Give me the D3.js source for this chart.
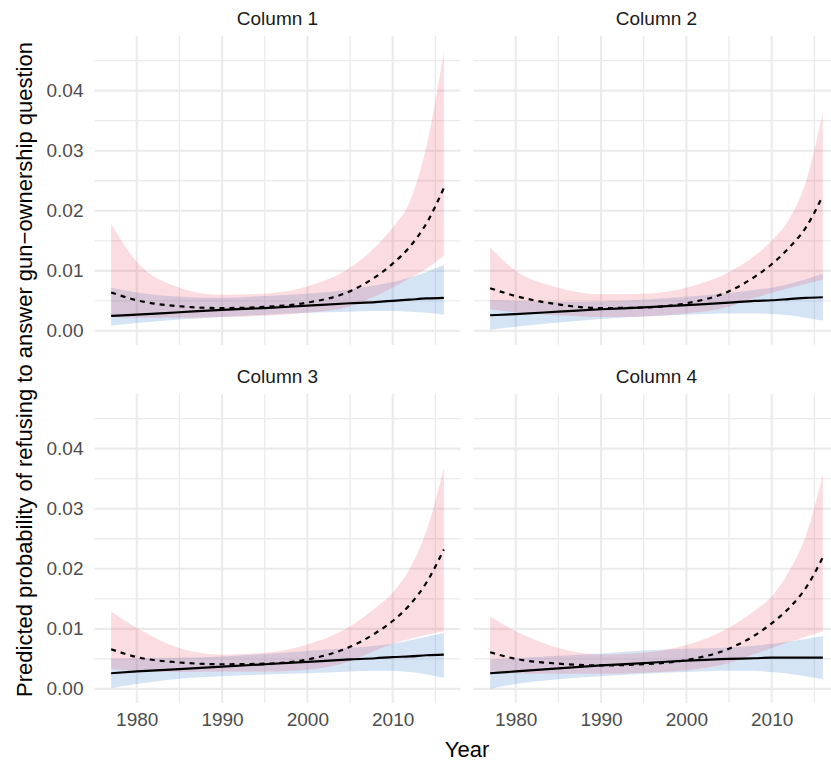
<!DOCTYPE html>
<html>
<head>
<meta charset="utf-8">
<script src="https://cdn.jsdelivr.net/npm/d3@7"></script>
<style>
  html, body { margin: 0; padding: 0; background: #fff; }
  svg { display: block; font-family: "Liberation Sans", Arial, Helvetica, sans-serif; }
</style>
</head>
<body>
<svg id="chart" width="831" height="761"></svg>
<script>
// ---------------- data ----------------
const years = [1977, 1980, 1985, 1990, 1995, 2000, 2005, 2008, 2010, 2012, 2014, 2016];
const panelTitles = ["Column 1", "Column 2", "Column 3", "Column 4"];
const xTicks = [1980, 1990, 2000, 2010];
const xMinorTicks = [1985, 1995, 2005, 2015];
const yTicks = [0.00, 0.01, 0.02, 0.03, 0.04];
const yMinorTicks = [0.005, 0.015, 0.025, 0.035, 0.045];

// dashed line (with pink band)
const dashedMean = [
  [0.0064, 0.0051, 0.0041, 0.0038, 0.0040, 0.0047, 0.0066, 0.0090, 0.0112, 0.0140, 0.0180, 0.0238],
  [0.0071, 0.0058, 0.0044, 0.0038, 0.0039, 0.0046, 0.0066, 0.0090, 0.0111, 0.0138, 0.0172, 0.0225],
  [0.0066, 0.0053, 0.0044, 0.0041, 0.0042, 0.0049, 0.0070, 0.0093, 0.0113, 0.0140, 0.0178, 0.0232],
  [0.0061, 0.0050, 0.0042, 0.0039, 0.0041, 0.0048, 0.0067, 0.0089, 0.0109, 0.0134, 0.0168, 0.0219]
];
const dashedUpper = [
  [0.0178, 0.0115, 0.0072, 0.0060, 0.0062, 0.0074, 0.0105, 0.0140, 0.0172, 0.0215, 0.0310, 0.0465],
  [0.0139, 0.0100, 0.0072, 0.0061, 0.0062, 0.0072, 0.0098, 0.0125, 0.0150, 0.0185, 0.0248, 0.0365],
  [0.0129, 0.0102, 0.0068, 0.0057, 0.0060, 0.0074, 0.0104, 0.0135, 0.0160, 0.0200, 0.0265, 0.0368],
  [0.0120, 0.0096, 0.0068, 0.0057, 0.0060, 0.0073, 0.0102, 0.0130, 0.0154, 0.0195, 0.0255, 0.0357]
];
const dashedLower = [
  [0.0023, 0.0022, 0.0022, 0.0023, 0.0025, 0.0030, 0.0041, 0.0058, 0.0072, 0.0088, 0.0104, 0.0125],
  [0.0036, 0.0031, 0.0026, 0.0023, 0.0024, 0.0029, 0.0040, 0.0055, 0.0063, 0.0071, 0.0078, 0.0085],
  [0.0033, 0.0030, 0.0028, 0.0029, 0.0029, 0.0032, 0.0046, 0.0064, 0.0075, 0.0083, 0.0090, 0.0096],
  [0.0028, 0.0026, 0.0025, 0.0025, 0.0027, 0.0031, 0.0043, 0.0058, 0.0068, 0.0078, 0.0087, 0.0096]
];
// solid line (with blue band)
const solidMean = [
  [0.0025, 0.0027, 0.0031, 0.0035, 0.0038, 0.0042, 0.0046, 0.0048, 0.0050, 0.0052, 0.0054, 0.0055],
  [0.0026, 0.0028, 0.0032, 0.0036, 0.0039, 0.0043, 0.0047, 0.0050, 0.0051, 0.0053, 0.0055, 0.0056],
  [0.0026, 0.0029, 0.0033, 0.0037, 0.0041, 0.0045, 0.0049, 0.0051, 0.0053, 0.0054, 0.0056, 0.0057],
  [0.0026, 0.0029, 0.0034, 0.0039, 0.0043, 0.0047, 0.0050, 0.0051, 0.0052, 0.0052, 0.0052, 0.0052]
];
const solidUpper = [
  [0.0072, 0.0064, 0.0057, 0.0055, 0.0058, 0.0062, 0.0069, 0.0076, 0.0081, 0.0089, 0.0098, 0.0110],
  [0.0052, 0.0050, 0.0048, 0.0049, 0.0052, 0.0057, 0.0063, 0.0068, 0.0072, 0.0078, 0.0086, 0.0095],
  [0.0050, 0.0051, 0.0052, 0.0054, 0.0058, 0.0063, 0.0068, 0.0072, 0.0075, 0.0081, 0.0087, 0.0093],
  [0.0049, 0.0051, 0.0055, 0.0059, 0.0064, 0.0067, 0.0069, 0.0072, 0.0075, 0.0079, 0.0083, 0.0088]
];
const solidLower = [
  [0.0009, 0.0013, 0.0019, 0.0023, 0.0027, 0.0030, 0.0032, 0.0033, 0.0033, 0.0032, 0.0030, 0.0027],
  [0.0002, 0.0007, 0.0014, 0.0020, 0.0024, 0.0027, 0.0029, 0.0029, 0.0028, 0.0026, 0.0022, 0.0017],
  [0.0001, 0.0008, 0.0017, 0.0021, 0.0024, 0.0026, 0.0029, 0.0030, 0.0030, 0.0028, 0.0024, 0.0018],
  [0.0000, 0.0008, 0.0016, 0.0021, 0.0025, 0.0028, 0.0030, 0.0030, 0.0028, 0.0025, 0.0021, 0.0016]
];

// ---------------- layout ----------------
const svg = d3.select("#chart");
svg.append("rect").attr("width", 831).attr("height", 761).attr("fill", "#fff");

const panelW = 366, panelH = 309;
const panelLefts = [94.5, 473.5];
const panelTops = [36, 394];
const xDomain = [1975.05, 2017.95];
const yDomain = [-0.00235, 0.0491];

const gridCol = "#EBEBEB";
const blueFill = "rgb(45,120,205)", blueAlpha = 0.2;
const pinkFill = "rgb(232,60,90)", pinkAlpha = 0.18;

panelTitles.forEach((title, i) => {
  const col = i % 2, row = Math.floor(i / 2);
  const left = panelLefts[col], top = panelTops[row];
  const x = d3.scaleLinear().domain(xDomain).range([left, left + panelW]);
  const y = d3.scaleLinear().domain(yDomain).range([top + panelH, top]);
  const g = svg.append("g");

  // grid
  g.selectAll(".ymin").data(yMinorTicks).join("line")
    .attr("x1", left).attr("x2", left + panelW)
    .attr("y1", d => y(d)).attr("y2", d => y(d))
    .attr("stroke", gridCol).attr("stroke-width", 1.3);
  g.selectAll(".xmin").data(xMinorTicks).join("line")
    .attr("y1", top).attr("y2", top + panelH)
    .attr("x1", d => x(d)).attr("x2", d => x(d))
    .attr("stroke", gridCol).attr("stroke-width", 1.3);
  g.selectAll(".ymaj").data(yTicks).join("line")
    .attr("x1", left).attr("x2", left + panelW)
    .attr("y1", d => y(d)).attr("y2", d => y(d))
    .attr("stroke", gridCol).attr("stroke-width", 2.1);
  g.selectAll(".xmaj").data(xTicks).join("line")
    .attr("y1", top).attr("y2", top + panelH)
    .attr("x1", d => x(d)).attr("x2", d => x(d))
    .attr("stroke", gridCol).attr("stroke-width", 2.1);

  const curve = d3.curveMonotoneX;
  const area = (lo, hi) => d3.area()
    .x((d, k) => x(years[k]))
    .y0((d, k) => y(lo[k]))
    .y1((d, k) => y(hi[k]))
    .curve(curve)(years);
  const line = (vals) => d3.line()
    .x((d, k) => x(years[k]))
    .y((d, k) => y(vals[k]))
    .curve(curve)(years);

  g.append("path").attr("d", area(solidLower[i], solidUpper[i]))
    .attr("fill", blueFill).attr("fill-opacity", blueAlpha);
  g.append("path").attr("d", area(dashedLower[i], dashedUpper[i]))
    .attr("fill", pinkFill).attr("fill-opacity", pinkAlpha);

  g.append("path").attr("d", line(solidMean[i]))
    .attr("fill", "none").attr("stroke", "#000").attr("stroke-width", 2.2);
  g.append("path").attr("d", line(dashedMean[i]))
    .attr("fill", "none").attr("stroke", "#000").attr("stroke-width", 2.2)
    .attr("stroke-dasharray", "5,5");

  // strip
  svg.append("text").attr("x", left + panelW / 2).attr("y", top - 18)
    .attr("text-anchor", "middle").attr("dominant-baseline", "central")
    .attr("font-size", 19).attr("fill", "#1A1A1A").text(title);

  // axes
  if (col === 0) {
    const ax = svg.append("g").attr("transform", `translate(${left},0)`)
      .call(d3.axisLeft(y).tickValues(yTicks).tickFormat(d3.format(".2f")).tickSize(0).tickPadding(11));
    ax.select(".domain").remove();
    ax.selectAll("text").attr("font-size", 19).attr("fill", "#4D4D4D").attr("font-family", null);
  }
  if (row === 1) {
    const ax = svg.append("g").attr("transform", `translate(0,${top + panelH})`)
      .call(d3.axisBottom(x).tickValues(xTicks).tickFormat(d3.format("d")).tickSize(0).tickPadding(10));
    ax.select(".domain").remove();
    ax.selectAll("text").attr("font-size", 19).attr("fill", "#4D4D4D").attr("font-family", null);
  }
});

// axis titles
svg.append("text").attr("x", (94.5 + 473.5 + panelW) / 2).attr("y", 756.5)
  .attr("text-anchor", "middle").attr("font-size", 22).attr("fill", "#000").text("Year");
svg.append("text")
  .attr("transform", `translate(31.5,${(36 + 394 + panelH) / 2}) rotate(-90)`)
  .attr("text-anchor", "middle").attr("font-size", 22).attr("fill", "#000")
  .text("Predicted probability of refusing to answer gun\u2212ownership question");
</script>
</body>
</html>
